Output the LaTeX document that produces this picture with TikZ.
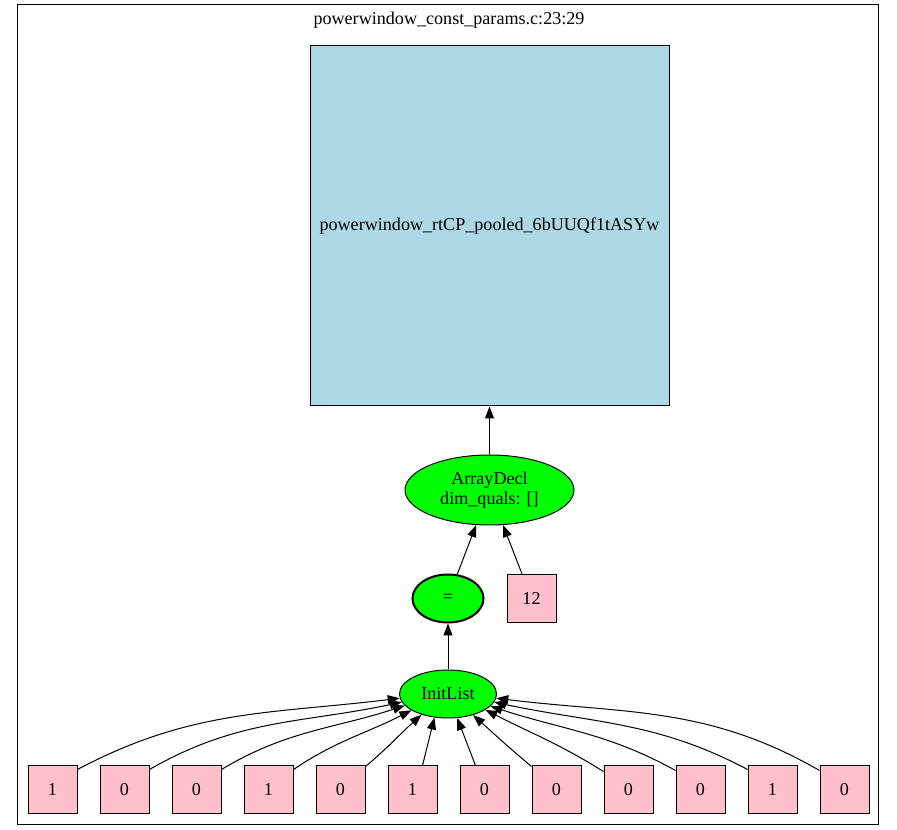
\documentclass[tikz,border=0pt]{standalone}
\usepackage{fontspec}
\setmainfont{Liberation Serif}
\usetikzlibrary{shapes, arrows.meta, positioning}

\definecolor{boxblue}{HTML}{ADD8E6}
\definecolor{leafpink}{HTML}{FFC0CB}
\definecolor{opgreen}{HTML}{00FF00}

\begin{document}
\begin{tikzpicture}[
        x=1pt, y=1pt,
        font=\fontsize{18.1pt}{20pt}\selectfont,
        node distance=22pt,
        cluster/.style={
          rectangle,
          draw,
          line width=1pt,
          minimum width=861pt,
          minimum height=820pt
        },
        decl/.style={
          rectangle,
          draw,
          line width=1pt,
          fill=boxblue,
          minimum width=359pt,
          minimum height=360pt
        },
        leaf/.style={
          rectangle,
          draw,
          line width=1pt,
          fill=leafpink,
          inner sep=0pt,
          minimum width=49pt,
          minimum height=48pt
        },
        op/.style={
          ellipse,
          draw,
          line width=1pt,
          fill=opgreen,
          inner sep=0pt,
          align=center
        },
        line/.style={-{Triangle[length=12pt, width=9pt]}, line width=1pt}
    ]
    \useasboundingbox (0,0) rectangle (897,830);

    % Cluster and its title
    \node[cluster] (clus) at (447.5,415) {};
    \node (title) at (449,810) {powerwindow\_const\_params.c:23:29};

    % Define the nodes
    \node[decl] (pooled) at (489.5,604) {powerwindow\_rtCP\_pooled\_6bUUQf1tASYw};
    \node[op, minimum width=169pt, minimum height=70pt] (arraydecl) at (489.5,340) {ArrayDecl\\dim\_quals: []};
    \node[op, line width=2pt, minimum width=71pt, minimum height=48pt] (assign) at (448,231.5) {=};
    \node[leaf, right=22pt of assign] (dim) {12};
    \node[op, minimum width=97pt, minimum height=48pt] (initlist) at (448,136) {InitList};

    % Values of the list
    \node[leaf] (v0) at (52.5,40) {1};
    \node[leaf, right=of v0] (v1) {0};
    \node[leaf, right=of v1] (v2) {0};
    \node[leaf, right=of v2] (v3) {1};
    \node[leaf, right=of v3] (v4) {0};
    \node[leaf, right=of v4] (v5) {1};
    \node[leaf, right=of v5] (v6) {0};
    \node[leaf, right=of v6] (v7) {0};
    \node[leaf, right=of v7] (v8) {0};
    \node[leaf, right=of v8] (v9) {0};
    \node[leaf, right=of v9] (v10) {1};
    \node[leaf, right=of v10] (v11) {0};

    % Connect the nodes
    \draw[line] (arraydecl) -- (pooled);
    \draw[line] (assign) -- (arraydecl);
    \draw[line] (dim) -- (arraydecl);
    \draw[line] (initlist) -- (assign);

    \draw[line] ([yshift=-4pt]v0.north east) to[out=28, in=187] (initlist.185);
    \draw[line] ([yshift=-4pt]v1.north east) to[out=30, in=192] (initlist.190);
    \draw[line] ([yshift=-4pt]v2.north east) to[out=31, in=198] (initlist.195);
    \draw[line] ([yshift=-4pt]v3.north east) to[out=34, in=207] (initlist.204);
    \draw[line] ([yshift=-1pt]v4.north east) to[out=40, in=222] (initlist.218);
    \draw[line] ([xshift=10pt]v5.north) -- (initlist.240);
    \draw[line] ([xshift=-9pt]v6.north) -- (initlist.291);
    \draw[line] ([yshift=-1pt]v7.north west) to[out=140, in=318] (initlist.320);
    \draw[line] ([yshift=-6pt]v8.north west) to[out=148, in=333] (initlist.337);
    \draw[line] ([yshift=-5pt]v9.north west) to[out=151, in=342] (initlist.344);
    \draw[line] ([yshift=-4pt]v10.north west) to[out=152, in=348] (initlist.350);
    \draw[line] ([yshift=-5pt]v11.north west) to[out=150, in=353] (initlist.355);

\end{tikzpicture}
\end{document}
